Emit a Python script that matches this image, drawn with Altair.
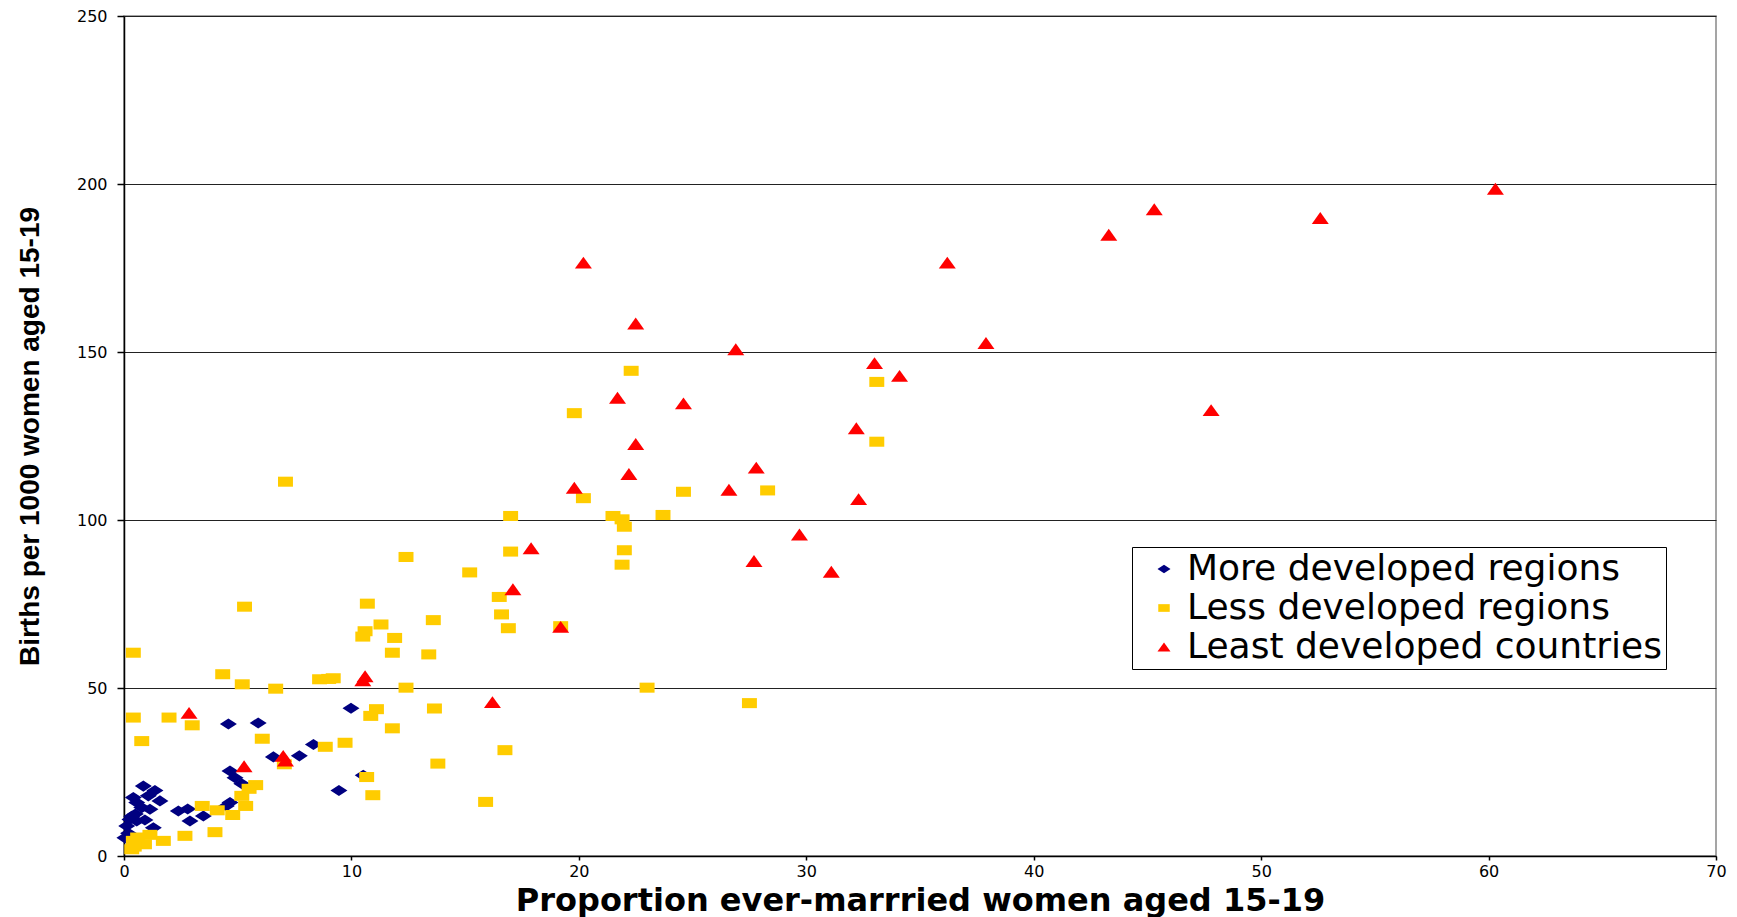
import altair as alt
import pandas as pd

series_names = ["More developed regions", "Less developed regions", "Least developed countries"]
series_colors = ["#000080", "#FFCC00", "#FF0000"]

x_ticks = [0, 10, 20, 30, 40, 50, 60, 70]
y_ticks = [0, 50, 100, 150, 200, 250]

more_x = [0.04, 0.12, 0.2, 0.26, 0.34, 0.5, 0.56, 0.92, 1.29, 0.41, 0.56, 0.78, 1.14, 0.85, 1.36, 1.07, 1.58,
          2.39, 2.8, 2.9, 3.49, 4.5, 4.66, 4.66, 4.88, 5.18, 4.59, 5.9, 6.57, 7.71, 8.33, 9.98, 9.45, 10.52]
more_y = [5.4, 8.9, 6.8, 10.9, 11.8, 12.5, 10.4, 10.7, 8.4, 17.4, 15.9, 14.4, 13.9, 20.8, 19.5, 17.9, 16.4,
          13.4, 14.0, 10.4, 11.9, 14.9, 15.9, 25.3, 23.3, 21.5, 39.3, 39.6, 29.5, 29.8, 33.2, 44.0, 19.5, 24.0]

less_x = [22.3, 33.1, 19.8, 33.1, 7.1, 24.6, 28.3, 20.2, 17.0, 21.5, 23.7, 21.9, 22.0, 17.0, 22.0, 12.4,
          21.9, 15.2, 16.5, 10.7, 5.3, 16.6, 13.6, 11.3, 16.9, 19.2, 10.6, 10.5, 11.9, 11.8, 13.4, 0.41,
          4.34, 8.6, 9.0, 9.2, 5.2, 6.67, 12.4, 23.0, 27.5, 0.41, 1.98, 11.1, 10.85, 3.0, 13.65, 11.8,
          0.78, 6.08, 9.72, 8.85, 16.75, 13.8, 7.05, 10.67, 10.94, 15.9, 5.79, 5.5, 5.18, 5.35, 4.78,
          3.44, 4.1, 4.0, 2.68, 1.73, 1.14, 0.41, 0.34, 0.9, 0.6, 0.45]
less_y = [144.4, 141.1, 131.8, 123.3, 111.4, 108.4, 108.8, 106.5, 101.2, 101.2, 101.5, 100.2, 98.0, 90.6,
          91.0, 89.0, 86.7, 84.4, 77.1, 75.1, 74.2, 71.9, 70.2, 68.9, 67.8, 68.4, 66.9, 65.3, 64.9, 60.5,
          60.0, 60.5, 54.1, 52.6, 52.7, 52.9, 51.1, 49.8, 50.1, 50.1, 45.5, 41.2, 41.2, 43.7, 41.7, 38.9,
          43.9, 38.0, 34.2, 34.9, 33.7, 32.5, 31.5, 27.5, 27.3, 23.5, 18.1, 16.1, 21.1, 20.0, 17.9, 14.9,
          12.2, 14.9, 13.6, 7.1, 6.0, 4.5, 6.3, 4.5, 2.0, 3.5, 5.5, 2.8]

least_x = [60.3, 52.6, 45.3, 43.3, 36.2, 20.2, 37.9, 22.5, 26.9, 33.0, 34.1, 21.7, 24.6, 47.8, 32.2, 22.5,
           27.8, 22.2, 19.8, 26.6, 32.3, 29.7, 17.9, 27.7, 31.1, 17.1, 19.2, 10.6, 10.5, 16.2, 2.86, 7.0,
           7.1, 5.28]
least_y = [198.6, 189.9, 192.5, 184.9, 176.6, 176.6, 152.7, 158.5, 150.8, 146.7, 142.9, 136.4, 134.7, 132.7,
           127.3, 122.6, 115.6, 113.7, 109.6, 109.0, 106.2, 95.7, 91.6, 87.8, 84.6, 79.4, 68.2, 53.5, 52.3,
           45.8, 42.6, 29.8, 28.4, 26.7]

rows = []
for k, (name, xs, ys) in enumerate(zip(series_names, [more_x, less_x, least_x], [more_y, less_y, least_y])):
    for xv, yv in zip(xs, ys):
        rows.append({"group": name, "married": xv, "births": yv, "layer": k})
df = pd.DataFrame(rows)

# custom symbol paths (wide, like the stretched original markers)
diamond = "M-1,0L0,-0.65L1,0L0,0.65Z"
rect = "M-0.88,-0.59L0.88,-0.59L0.88,0.59L-0.88,0.59Z"
tri = "M0,-0.7L1,0.7L-1,0.7Z"

legend = alt.Legend(
    title=None, orient="none", legendX=1008, legendY=531,
    fillColor="white", strokeColor="black", padding=4, rowPadding=3,
    symbolOffset=10, labelOffset=5, symbolSize=170, symbolStrokeWidth=0,
    labelFont="DejaVu Sans", labelFontSize=36, labelColor="black", labelLimit=1000,
)

chart = alt.Chart(df).mark_point(filled=True, opacity=1, size=289, strokeWidth=0).encode(
    x=alt.X("married:Q",
            scale=alt.Scale(domain=[0, 70], nice=False),
            axis=alt.Axis(values=x_ticks, grid=False, domainColor="black", domainWidth=1.5,
                          tickColor="black", tickSize=4, tickWidth=1.5,
                          labelFont="DejaVu Sans", labelFontSize=16, labelColor="black",
                          labelPadding=3, labelFlush=False,
                          titleFont="DejaVu Sans", titleFontWeight="bold", titleFontSize=32,
                          titleColor="black", titleX=796, titleY=54, titleBaseline="alphabetic",
                          titleAlign="center"),
            title="Proportion ever-marrried women aged 15-19"),
    y=alt.Y("births:Q",
            scale=alt.Scale(domain=[0, 250], nice=False),
            axis=alt.Axis(values=y_ticks, grid=True, gridColor="#222222", gridWidth=1,
                          domainColor="black", domainWidth=1.5,
                          tickColor="black", tickSize=7, tickWidth=1.5,
                          labelFont="DejaVu Sans", labelFontSize=16, labelColor="black",
                          labelPadding=10,
                          titleFont="Liberation Sans", titleFontWeight="bold", titleFontSize=28,
                          titleColor="black", titleAngle=270, titleX=-94, titleY=420,
                          titleBaseline="middle", titleAlign="center"),
            title="Births per 1000 women aged 15-19"),
    color=alt.Color("group:N", scale=alt.Scale(domain=series_names, range=series_colors), legend=legend),
    shape=alt.Shape("group:N", scale=alt.Scale(domain=series_names, range=[diamond, rect, tri]), legend=legend),
    order=alt.Order("layer:Q"),
).properties(
    width=1592, height=840,
    autosize=alt.AutoSizeParams(type="none"),
    padding={"left": 116, "top": 8, "right": 13, "bottom": 64},
).configure_view(
    stroke="#888888", strokeWidth=1.5
)

chart.save("out.html", embed_options={"renderer": "svg", "actions": False})
